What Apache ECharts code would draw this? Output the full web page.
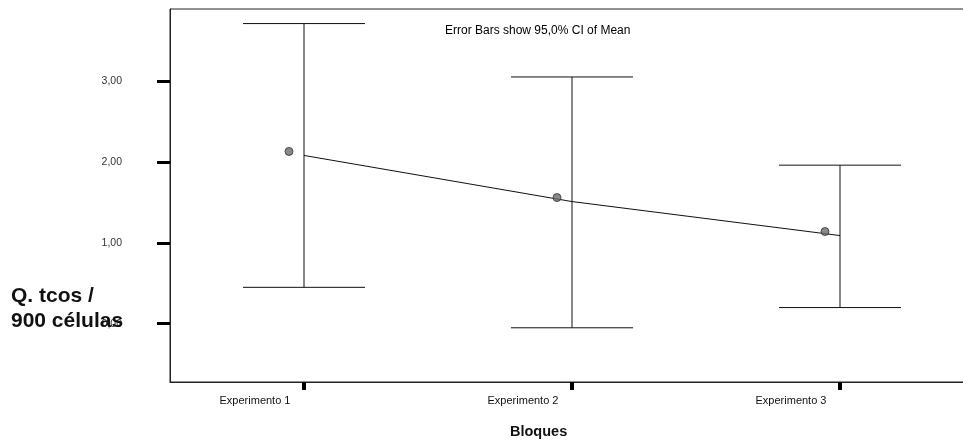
<!DOCTYPE html>
<html>
<head>
<meta charset="utf-8">
<script src="https://cdn.jsdelivr.net/npm/echarts@6/dist/echarts.min.js"></script>
<style>
  html, body { margin: 0; padding: 0; background: #fff; }
  #chart { width: 963px; height: 443px; }
</style>
</head>
<body>
<div id="chart"></div>
<script>
// Q. tcos / 900 células by block: mean with 95% CI
const categories = ['Experimento 1', 'Experimento 2', 'Experimento 3'];
const means = [2.08, 1.51, 1.09];
const ciLower = [0.45, -0.05, 0.20];
const ciUpper = [3.71, 3.05, 1.96];
const yTicks = [0, 1, 2, 3];

const FONT = '"Liberation Sans", Arial, sans-serif';

const errorData = categories.map((c, i) => [i, ciLower[i], ciUpper[i]]);

const chart = echarts.init(document.getElementById('chart'), null, { renderer: 'canvas' });

chart.setOption({
  animation: false,
  backgroundColor: '#fff',
  title: {
    text: 'Error Bars show 95,0% CI of Mean',
    left: 445,
    top: 25,
    padding: 0,
    textStyle: { fontFamily: FONT, fontSize: 12, fontWeight: 'normal', color: '#000' }
  },
  grid: {
    left: 170, top: 9, width: 804, bottom: 61,
    containLabel: false,
    outerBoundsMode: 'none',
    show: true, borderColor: '#222', borderWidth: 1, backgroundColor: '#fff'
  },
  xAxis: {
    type: 'category',
    data: categories,
    boundaryGap: true,
    axisLine: { show: true, onZero: false, lineStyle: { color: '#222', width: 1 } },
    axisTick: { show: true, alignWithLabel: true, inside: false, length: 8, lineStyle: { color: '#000', width: 4 } },
    axisLabel: {
      fontFamily: FONT, fontSize: 11, color: '#111', margin: 13,
      padding: [0, 98, 0, 0]
    },
    splitLine: { show: false }
  },
  yAxis: {
    type: 'value',
    min: -0.72,
    max: 3.89,
    axisLine: { show: true, onZero: false, lineStyle: { color: '#222', width: 1 } },
    axisTick: { show: true, customValues: yTicks, length: 13, lineStyle: { color: '#000', width: 3 } },
    axisLabel: {
      customValues: yTicks, margin: 48,
      fontFamily: FONT, fontSize: 10.5, color: '#333',
      formatter: v => v.toFixed(2).replace('.', ',')
    },
    splitLine: { show: false }
  },
  graphic: [
    {
      type: 'text', left: 11, top: 284, z: 100,
      style: {
        text: 'Q. tcos /\n900 células',
        font: 'bold 21px ' + FONT, fill: '#111', lineHeight: 25
      }
    },
    {
      type: 'text', left: 510, top: 424, z: 100,
      style: { text: 'Bloques', font: 'bold 14.5px ' + FONT, fill: '#111' }
    }
  ],
  series: [
    {
      // 95% CI whiskers with caps
      type: 'custom',
      data: errorData,
      z: 3,
      renderItem: (params, api) => {
        const x = api.value(0);
        const lo = api.coord([x, api.value(1)]);
        const hi = api.coord([x, api.value(2)]);
        const half = 61;
        const style = { stroke: '#111', lineWidth: 1 };
        return {
          type: 'group',
          children: [
            { type: 'line', shape: { x1: hi[0], y1: hi[1], x2: lo[0], y2: lo[1] }, style },
            { type: 'line', shape: { x1: hi[0] - half, y1: hi[1], x2: hi[0] + half, y2: hi[1] }, style },
            { type: 'line', shape: { x1: lo[0] - half, y1: lo[1], x2: lo[0] + half, y2: lo[1] }, style }
          ]
        };
      }
    },
    {
      // line joining the means
      type: 'line',
      data: means,
      symbol: 'none',
      lineStyle: { color: '#111', width: 1 },
      z: 4
    },
    {
      // mean markers
      type: 'scatter',
      data: means,
      symbol: 'circle',
      symbolSize: 8,
      symbolOffset: [-15, -4],
      itemStyle: { color: '#6a6a6a', borderColor: '#333', borderWidth: 1 },
      z: 5
    }
  ]
});
</script>
</body>
</html>
